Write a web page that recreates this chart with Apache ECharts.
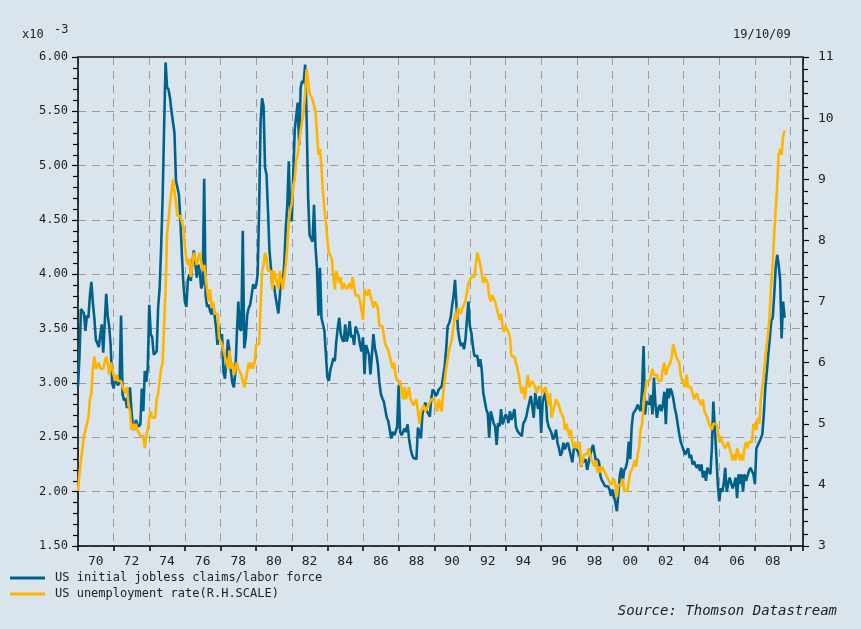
<!DOCTYPE html>
<html><head><meta charset="utf-8">
<script src="https://cdn.jsdelivr.net/npm/echarts@6/dist/echarts.min.js"></script>
<style>html,body{margin:0;padding:0;background:#dae4ed;}#c{width:861px;height:629px;}</style>
</head><body><div id="c"></div>
<script>
// ---- data (monthly, starting Jan 1970) ----
const startYear = 1970;
const claimsName = 'US initial jobless claims/labor force';
const unempName = 'US unemployment rate(R.H.SCALE)';

// US initial jobless claims / labor force (x10^-3), monthly
const claims70s = [
 2.97,3.25,3.68,3.66,3.64,3.48,3.62,3.60,3.80,3.93,3.74,3.60,
 3.40,3.40,3.33,3.44,3.54,3.28,3.55,3.82,3.62,3.52,3.35,3.00,
 2.95,3.04,3.00,2.98,3.01,3.62,2.90,2.84,2.86,2.77,2.85,2.96,
 2.75,2.59,2.57,2.66,2.62,2.60,2.62,2.95,2.74,3.11,3.01,3.14,
 3.72,3.45,3.42,3.26,3.25,3.29,3.70,3.87,4.25,4.70,5.35,5.95,
 5.72,5.70,5.62,5.50,5.40,5.30,4.86,4.80,4.73,4.49,4.18,3.91,
 3.75,3.70,3.95,4.00,3.94,4.10,4.22,4.12,3.97,4.09,4.03,3.87,
 3.91,4.88,3.80,3.70,3.72,3.66,3.63,3.72,3.63,3.51,3.35,3.52,
 3.38,3.45,3.10,3.04,3.20,3.40,3.30,3.11,3.00,2.96,3.10,3.45,
 3.75,3.50,3.48,4.40,3.32,3.41,3.63,3.69,3.72,3.81,3.91,3.87];
const claims80s = [
 3.90,4.00,4.60,5.40,5.62,5.55,4.98,4.92,4.58,4.21,4.06,3.87,
 3.90,3.80,3.72,3.64,3.81,4.00,3.91,4.12,4.43,4.64,5.04,4.52,
 4.49,4.90,5.33,5.33,5.58,5.19,5.72,5.78,5.76,5.93,5.45,4.72,
 4.36,4.35,4.30,4.64,4.25,4.05,3.62,4.06,3.60,3.54,3.48,3.26,
 3.05,3.02,3.12,3.17,3.23,3.20,3.38,3.51,3.60,3.45,3.40,3.38,
 3.54,3.38,3.44,3.57,3.42,3.44,3.35,3.52,3.48,3.44,3.35,3.29,
 3.42,3.08,3.35,3.35,3.26,3.08,3.26,3.45,3.32,3.26,3.17,3.01,
 2.90,2.86,2.83,2.83,2.68,2.65,2.65,2.49,2.55,2.52,2.55,2.60,
 2.98,2.55,2.52,2.55,2.58,2.55,2.62,2.49,2.40,2.34,2.31,2.32,
 2.30,2.59,2.60,2.49,2.71,2.77,2.82,2.74,2.72,2.69,2.86,2.94];
const claims90s = [
 2.92,2.88,2.90,2.94,2.94,2.97,3.06,3.15,3.31,3.52,3.55,3.60,
 3.71,3.80,3.95,3.70,3.49,3.40,3.34,3.37,3.31,3.40,3.58,3.75,
 3.52,3.46,3.34,3.25,3.26,3.25,3.15,3.22,3.12,2.91,2.91,2.76,
 2.72,2.50,2.74,2.69,2.63,2.60,2.43,2.63,2.60,2.76,2.62,2.66,
 2.71,2.69,2.63,2.74,2.66,2.70,2.76,2.60,2.56,2.54,2.54,2.51,
 2.63,2.65,2.69,2.76,2.82,2.88,2.79,2.68,2.91,2.82,2.76,2.88,
 2.54,2.82,2.88,2.91,2.66,2.60,2.57,2.54,2.48,2.51,2.57,2.45,
 2.40,2.33,2.36,2.45,2.39,2.43,2.45,2.39,2.33,2.27,2.39,2.42,
 2.39,2.36,2.33,2.23,2.30,2.27,2.30,2.20,2.27,2.33,2.39,2.43,
 2.35,2.27,2.30,2.27,2.14,2.10,2.08,2.05,2.05,2.05,2.02,1.96];
const claims00s = [
 2.02,1.96,1.90,1.82,1.98,2.15,2.22,2.10,2.20,2.22,2.28,2.46,
 2.30,2.60,2.72,2.74,2.76,2.80,2.80,2.74,2.95,3.34,2.71,2.83,
 2.83,2.80,2.89,2.71,3.05,2.80,2.68,2.77,2.80,2.74,2.80,2.92,
 2.62,2.95,2.86,2.95,2.92,2.86,2.77,2.71,2.62,2.53,2.46,2.46,
 2.38,2.34,2.37,2.40,2.31,2.34,2.25,2.28,2.24,2.22,2.25,2.19,
 2.25,2.13,2.19,2.10,2.22,2.19,2.16,2.40,2.83,2.58,2.34,2.07,
 1.91,2.03,2.00,2.07,2.22,2.00,2.07,2.13,2.08,2.03,2.07,2.13,
 1.94,2.16,2.07,2.16,2.00,2.16,2.10,2.10,2.19,2.22,2.22,2.16,
 2.07,2.40,2.43,2.46,2.49,2.53,2.71,2.95,3.10,3.26,3.41,3.57,
 3.60,3.81,4.06,4.18,4.09,3.95,3.41,3.75,3.60];

// US unemployment rate (%), monthly
const unemp70s = [
 3.9,4.2,4.4,4.6,4.8,4.9,5.0,5.1,5.4,5.5,5.9,6.1,
 5.9,5.9,6.0,5.9,5.9,5.9,6.0,6.1,6.0,5.8,6.0,6.0,
 5.8,5.7,5.8,5.7,5.7,5.7,5.6,5.6,5.5,5.6,5.3,5.2,
 4.9,5.0,4.9,5.0,4.9,4.9,4.8,4.8,4.8,4.6,4.8,4.9,
 5.1,5.2,5.1,5.1,5.1,5.4,5.5,5.5,5.9,6.0,6.6,7.2,
 8.1,8.1,8.6,8.8,9.0,8.8,8.6,8.4,8.4,8.4,8.3,8.2,
 7.9,7.7,7.6,7.7,7.4,7.6,7.8,7.8,7.6,7.7,7.8,7.8,
 7.5,7.6,7.4,7.2,7.0,7.2,6.9,7.0,6.8,6.8,6.8,6.4,
 6.4,6.3,6.3,6.1,6.0,5.9,6.2,5.9,6.0,5.8,5.9,6.0,
 5.9,5.9,5.8,5.8,5.6,5.7,5.7,6.0,5.9,6.0,5.9,6.0];
const unemp80s = [
 6.3,6.3,6.3,6.9,7.5,7.6,7.8,7.7,7.5,7.5,7.5,7.2,
 7.5,7.4,7.4,7.2,7.5,7.5,7.2,7.4,7.6,7.9,8.3,8.5,
 8.6,8.9,9.0,9.3,9.4,9.6,9.8,9.8,10.1,10.4,10.8,10.8,
 10.4,10.4,10.3,10.2,10.1,10.1,9.4,9.5,9.2,8.8,8.5,8.3,
 8.0,7.8,7.8,7.7,7.4,7.2,7.5,7.5,7.3,7.4,7.2,7.3,
 7.3,7.2,7.2,7.3,7.2,7.4,7.4,7.1,7.1,7.1,7.0,7.0,
 6.7,7.2,7.2,7.1,7.2,7.2,7.0,6.9,7.0,7.0,6.9,6.6,
 6.6,6.6,6.6,6.3,6.3,6.2,6.1,6.0,5.9,6.0,5.8,5.7,
 5.7,5.7,5.7,5.4,5.6,5.4,5.4,5.6,5.4,5.4,5.3,5.3,
 5.4,5.2,5.0,5.2,5.2,5.3,5.2,5.2,5.3,5.3,5.4,5.4];
const unemp90s = [
 5.4,5.3,5.2,5.4,5.4,5.2,5.5,5.7,5.9,5.9,6.2,6.3,
 6.4,6.6,6.8,6.7,6.9,6.9,6.8,6.9,6.9,7.0,7.0,7.3,
 7.3,7.4,7.4,7.4,7.6,7.8,7.7,7.6,7.6,7.3,7.4,7.4,
 7.3,7.1,7.0,7.1,7.1,7.0,6.9,6.8,6.7,6.8,6.6,6.5,
 6.6,6.6,6.5,6.4,6.1,6.1,6.1,6.0,5.9,5.8,5.6,5.5,
 5.6,5.4,5.4,5.8,5.6,5.6,5.7,5.7,5.6,5.5,5.6,5.6,
 5.6,5.5,5.5,5.6,5.6,5.3,5.5,5.1,5.2,5.2,5.4,5.4,
 5.3,5.2,5.2,5.1,4.9,5.0,4.9,4.8,4.9,4.7,4.6,4.7,
 4.6,4.6,4.7,4.3,4.4,4.5,4.5,4.5,4.6,4.5,4.4,4.4,
 4.3,4.4,4.2,4.3,4.2,4.3,4.3,4.2,4.2,4.1,4.1,4.0];
const unemp00s = [
 4.0,4.1,4.0,3.8,4.0,4.0,4.0,4.1,3.9,3.9,3.9,3.9,
 4.2,4.2,4.3,4.4,4.3,4.5,4.6,4.9,5.0,5.3,5.5,5.7,
 5.7,5.7,5.7,5.9,5.8,5.8,5.8,5.7,5.7,5.7,5.9,6.0,
 5.8,5.9,5.9,6.0,6.1,6.3,6.2,6.1,6.1,6.0,5.8,5.7,
 5.7,5.6,5.8,5.6,5.6,5.6,5.5,5.4,5.4,5.5,5.4,5.4,
 5.3,5.4,5.2,5.2,5.1,5.0,5.0,4.9,5.0,5.0,5.0,4.9,
 4.7,4.8,4.7,4.7,4.6,4.6,4.7,4.7,4.5,4.4,4.5,4.4,
 4.6,4.5,4.4,4.5,4.4,4.6,4.7,4.6,4.7,4.7,4.7,5.0,
 5.0,4.9,5.1,5.0,5.4,5.6,5.8,6.1,6.1,6.5,6.8,7.3,
 7.6,8.1,8.5,8.9,9.4,9.5,9.4,9.7,9.8];

// x-axis tick labels (each centred between two even-year ticks)
const xLabels = ['70','72','74','76','78','80','82','84','86','88','90','92','94','96','98','00','02','04','06','08'];

// ---- build ----
const claims = claims70s.concat(claims80s, claims90s, claims00s);
const unemp = unemp70s.concat(unemp80s, unemp90s, unemp00s);
const toSeries = arr => arr.map((v, i) => [startYear + i / 12, v]);
const labelValues = xLabels.map((s, i) => startYear + 1 + 2 * i);

const FONT = 'DejaVu Sans Mono';
const TXT = '#1e1e1e';
const GRID = {color: '#9c9c9c', width: 1, type: [8, 6]};
const XMIN = 1970, XMAX = 2010.7;

const chart = echarts.init(document.getElementById('c'), null, {renderer: 'canvas'});
chart.setOption({
  backgroundColor: '#dae4ed',
  animation: false,
  grid: {left: 78, right: 58, top: 57, height: 489, containLabel: false},
  legend: {
    orient: 'vertical', left: 10, top: 572, padding: 0, itemWidth: 35, itemHeight: 3, itemGap: 4,
    icon: 'rect', selectedMode: false,
    textStyle: {fontFamily: FONT, fontSize: 12, color: TXT, padding: [0, 0, 0, 5]},
    data: [claimsName, unempName]
  },
  xAxis: [{
    type: 'value', min: XMIN, max: XMAX, interval: 2,
    axisLine: {show: true, onZero: false, lineStyle: {color: '#000', width: 1.5}},
    axisTick: {show: true, length: 5, lineStyle: {color: '#000', width: 1.5}},
    axisLabel: {
      customValues: labelValues,
      formatter: v => xLabels[Math.round((v - startYear - 1) / 2)],
      fontFamily: FONT, fontSize: 13, color: TXT, margin: 9
    },
    splitLine: {show: true, lineStyle: GRID}
  }, {
    type: 'value', position: 'top', min: XMIN, max: XMAX,
    axisLine: {show: true, onZero: false, lineStyle: {color: '#4a4a4a', width: 2}},
    axisTick: {show: false}, axisLabel: {show: false}, splitLine: {show: false}
  }],
  yAxis: [{
    type: 'value', min: 1.5, max: 6, interval: 0.5, position: 'left',
    axisLine: {show: true, onZero: false, lineStyle: {color: '#000', width: 1.5}},
    axisTick: {show: true, length: 6, lineStyle: {color: '#000', width: 1.2}},
    minorTick: {show: true, splitNumber: 5, length: 5, lineStyle: {color: '#000', width: 1.2}},
    axisLabel: {formatter: v => v.toFixed(2), fontFamily: FONT, fontSize: 12, color: TXT,
      margin: 10, padding: [0, 0, 8, 0]},
    splitLine: {show: true, lineStyle: GRID}
  }, {
    type: 'value', min: 3, max: 11, interval: 1, position: 'right',
    axisLine: {show: true, onZero: false, lineStyle: {color: '#000', width: 1.5}},
    axisTick: {show: true, length: 6, lineStyle: {color: '#000', width: 1.2}},
    minorTick: {show: true, splitNumber: 5, length: 5, lineStyle: {color: '#000', width: 1.2}},
    axisLabel: {fontFamily: FONT, fontSize: 13, color: TXT, margin: 15, padding: [0, 0, 8, 0]},
    splitLine: {show: false}
  }],
  graphic: [
    {type: 'text', left: 22, top: 29, style: {text: 'x10', font: '12px ' + FONT, fill: TXT}},
    {type: 'text', left: 54, top: 24, style: {text: '-3', font: '12px ' + FONT, fill: TXT}},
    {type: 'text', left: 733, top: 29, style: {text: '19/10/09', font: '12px ' + FONT, fill: TXT}},
    {type: 'text', right: 24, top: 604, style: {text: 'Source: Thomson Datastream', font: 'italic 14px ' + FONT, fill: TXT}}
  ],
  series: [{
    name: claimsName, type: 'line', xAxisIndex: 0, yAxisIndex: 0,
    showSymbol: false, symbol: 'none', data: toSeries(claims),
    itemStyle: {color: '#00628a'}, lineStyle: {color: '#00628a', width: 2.6}
  }, {
    name: unempName, type: 'line', xAxisIndex: 0, yAxisIndex: 1,
    showSymbol: false, symbol: 'none', data: toSeries(unemp),
    itemStyle: {color: '#ffb400'}, lineStyle: {color: '#ffb400', width: 2.6}
  }]
});
</script></body></html>
